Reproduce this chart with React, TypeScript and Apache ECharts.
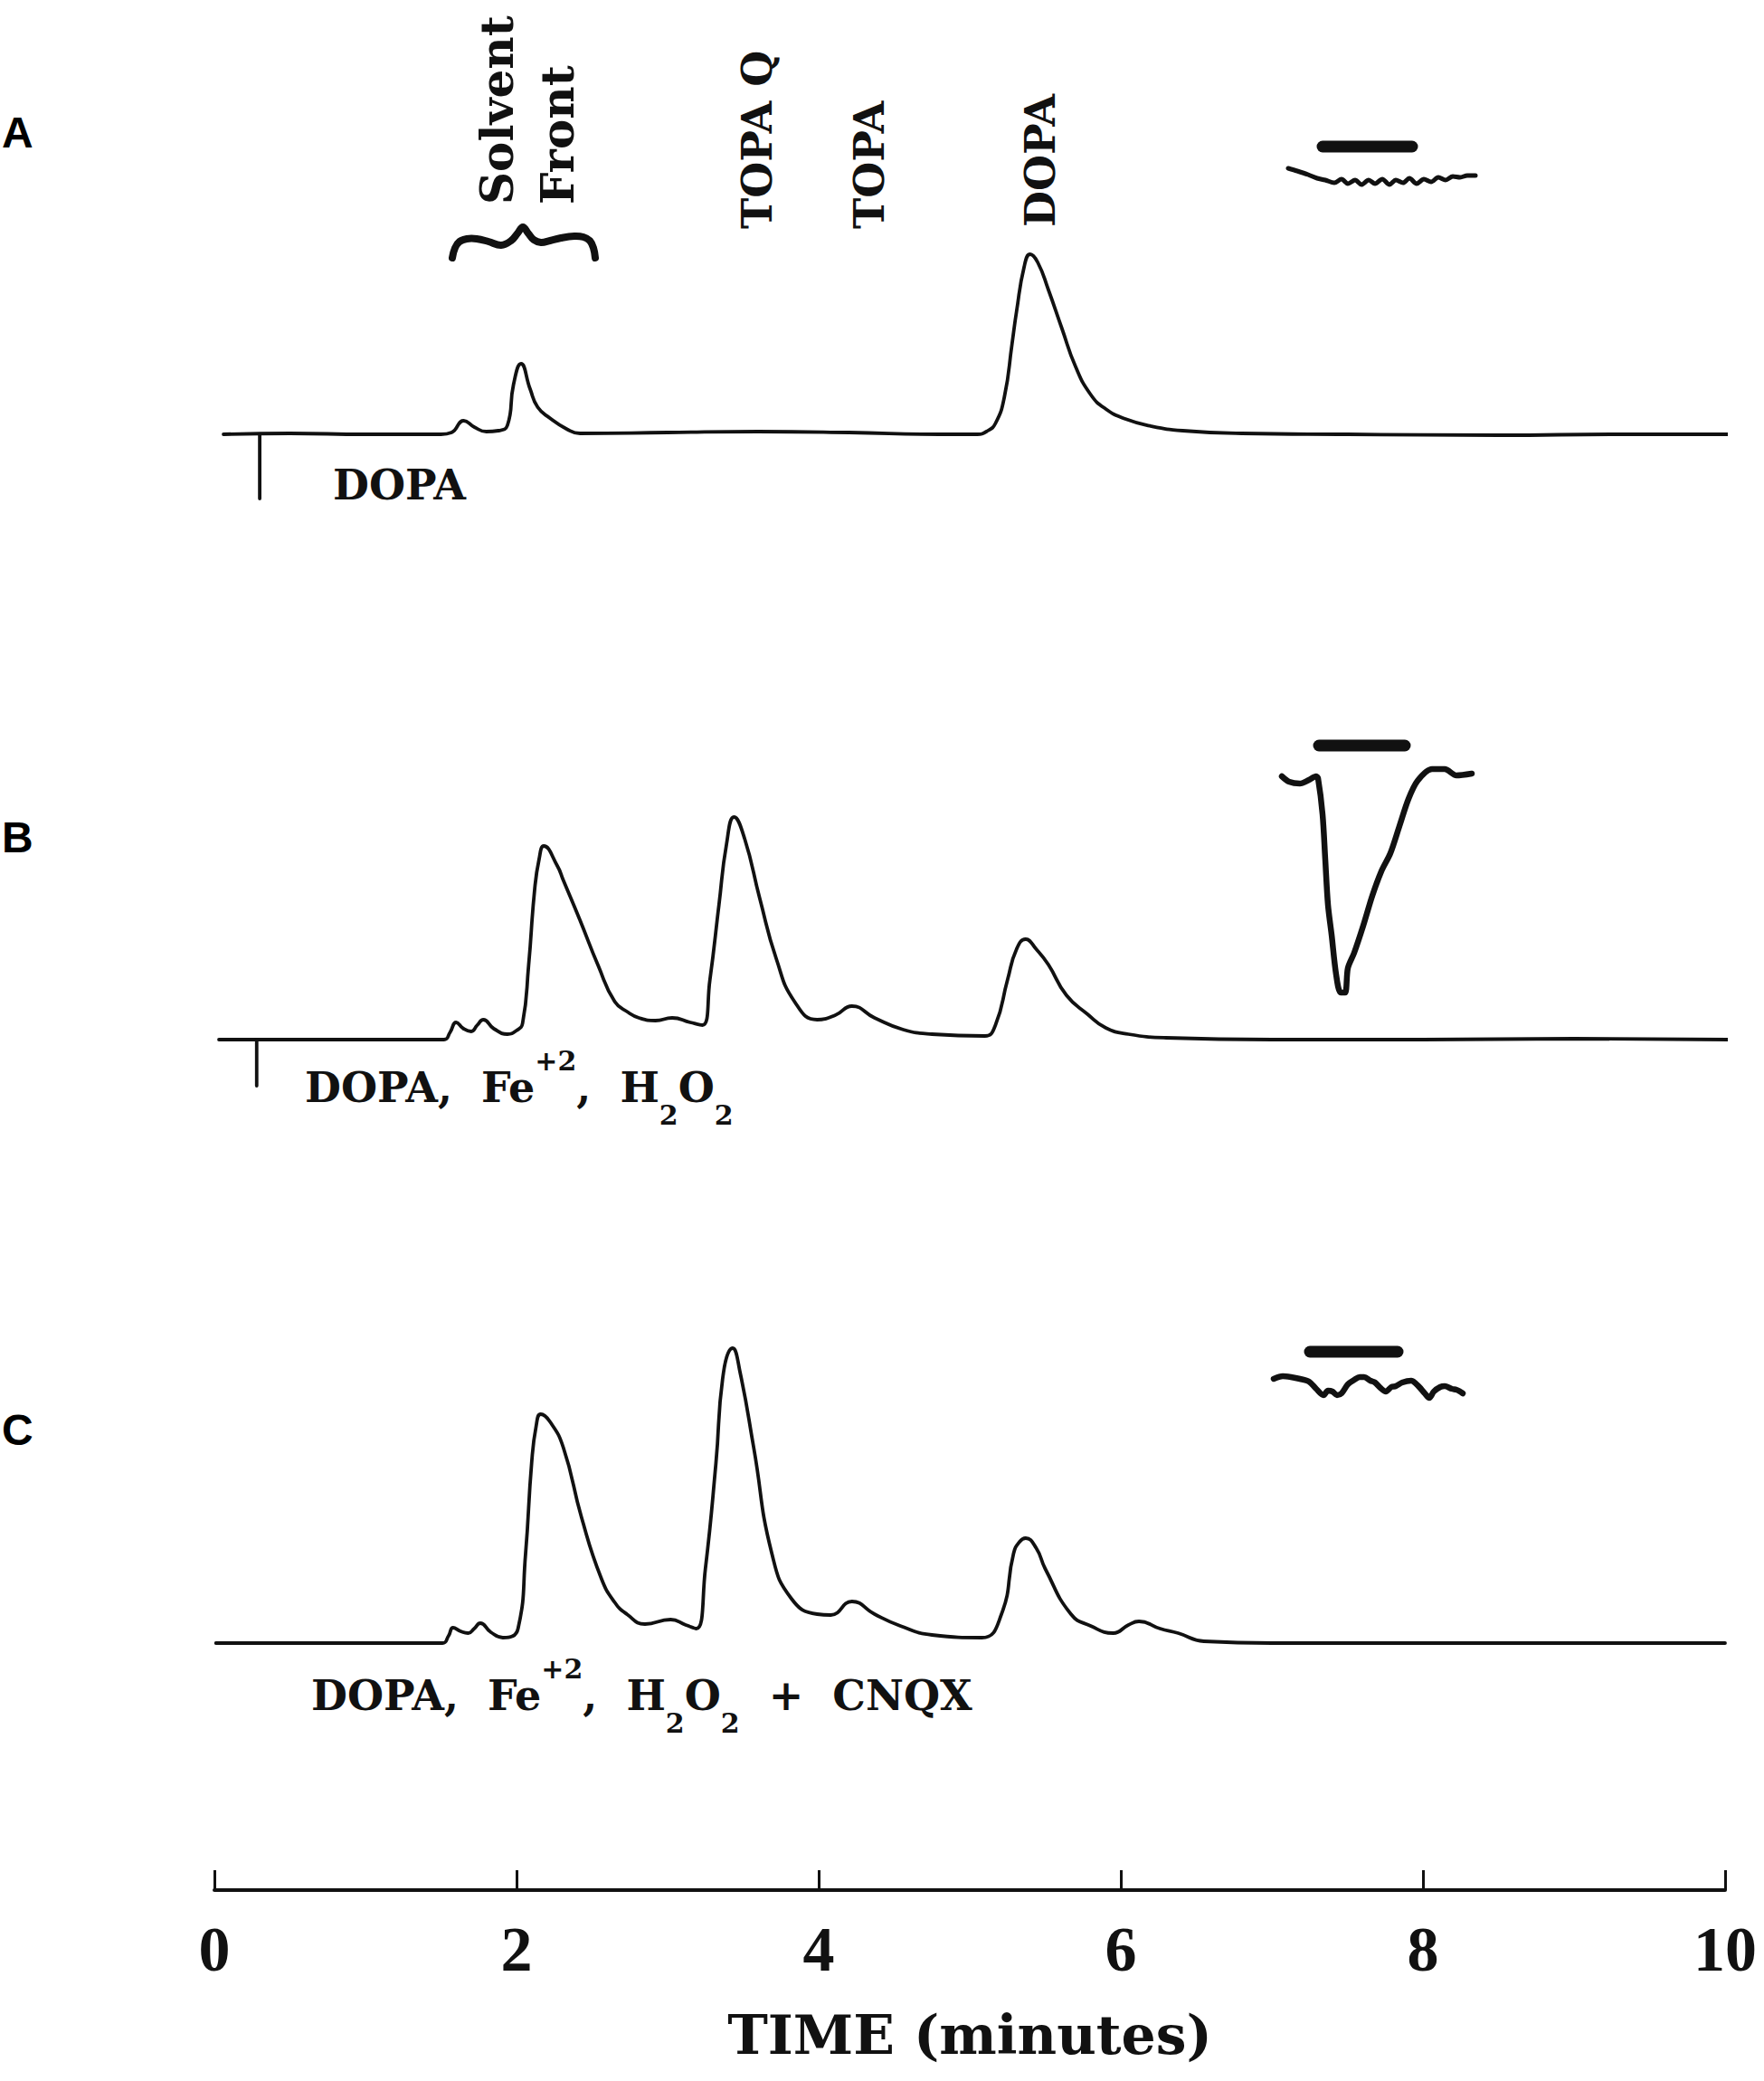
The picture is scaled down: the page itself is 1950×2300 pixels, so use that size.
import React, { useEffect, useRef } from 'react';
import * as echarts from 'echarts';

// ---- DATA (time in minutes, detector response in arbitrary units) ----
const traceA: [number, number][] = [
  [0.06, 0], [0.5, 1], [1.0, 0], [1.5, 0], [1.57, 2], [1.65, 15], [1.72, 8], [1.8, 3], [1.88, 4],
  [1.94, 10], [1.98, 55], [2.03, 78], [2.09, 50], [2.14, 30], [2.22, 18], [2.33, 6], [2.42, 1],
  [3.0, 2], [3.6, 3], [4.2, 2], [4.8, 0], [5.05, 0], [5.11, 3], [5.17, 12], [5.23, 42], [5.28, 100],
  [5.31, 136], [5.36, 185], [5.4, 199], [5.45, 190], [5.52, 160], [5.61, 117], [5.7, 75], [5.8, 44],
  [5.9, 28], [6.03, 17], [6.2, 9], [6.41, 4], [6.8, 1], [7.5, 0], [8.5, -1], [9.3, 0], [10.05, 0],
];
const traceB: [number, number][] = [
  [0.03, 0], [0.8, 0], [1.52, 0], [1.56, 8], [1.6, 19], [1.65, 12], [1.7, 9], [1.74, 16], [1.78, 22],
  [1.85, 12], [1.94, 6], [2.0, 10], [2.04, 18], [2.08, 82], [2.12, 166], [2.15, 200], [2.18, 214],
  [2.27, 192], [2.31, 176], [2.42, 132], [2.54, 82], [2.65, 42], [2.74, 30], [2.81, 24], [2.92, 21],
  [3.03, 24], [3.15, 19], [3.23, 16], [3.28, 66], [3.34, 149], [3.39, 216], [3.44, 246], [3.51, 222],
  [3.61, 156], [3.72, 89], [3.84, 42], [3.99, 22], [4.11, 27], [4.22, 37], [4.37, 24], [4.56, 11],
  [4.75, 6], [5.1, 4], [5.17, 16], [5.25, 66], [5.31, 100], [5.37, 111], [5.44, 100], [5.52, 83],
  [5.64, 49], [5.78, 28], [5.9, 13], [6.05, 6], [6.3, 2], [7.0, 0], [8.0, 0], [9.0, 1], [10.04, 0],
];
const traceC: [number, number][] = [
  [0.01, 0], [0.8, 0], [1.51, 0], [1.55, 8], [1.58, 17], [1.63, 13], [1.68, 11], [1.72, 16], [1.76, 22],
  [1.83, 12], [1.91, 6], [2.01, 16], [2.06, 99], [2.1, 199], [2.13, 240], [2.16, 253], [2.22, 245],
  [2.31, 216], [2.43, 139], [2.56, 72], [2.65, 45], [2.73, 32], [2.85, 21], [3.02, 26], [3.12, 20],
  [3.19, 16], [3.25, 82], [3.32, 199], [3.37, 299], [3.43, 326], [3.48, 299], [3.57, 216], [3.69, 99],
  [3.82, 49], [3.99, 32], [4.08, 31], [4.22, 46], [4.37, 32], [4.54, 19], [4.75, 9], [5.08, 6],
  [5.21, 32], [5.29, 99], [5.33, 112], [5.37, 116], [5.44, 105], [5.5, 82], [5.67, 32], [5.8, 19],
  [5.95, 11], [6.05, 20], [6.12, 24], [6.26, 16], [6.38, 11], [6.55, 2], [7.0, 0], [8.0, 0], [9.0, 0], [10.0, 0],
];
const injectionA: [number, number][] = [[0.3, 0], [0.3, -71]];
const injectionB: [number, number][] = [[0.28, 0], [0.28, -51]];

// insets (own arbitrary time / current units)
const insetA: [number, number][] = [
  [0, 14], [10, 11], [22, 7], [32, 3], [41, 1], [51, -2], [59, 2], [66, -3], [74, 1], [81, -4], [89, 1],
  [96, -3], [104, 2], [112, -4], [119, 1], [127, -2], [134, 3], [142, -3], [150, 2], [158, -1], [166, 4],
  [174, 1], [182, 5], [190, 4], [198, 6], [207, 6],
];
const insetABar: [number, number][] = [[38, 38], [137, 38]];
const insetB: [number, number][] = [
  [0, 0], [8, -6], [20, -8], [30, -4], [38, 0], [40, -2], [45, -42], [48, -92], [51, -142], [55, -175],
  [60, -219], [65, -239], [70, -239], [73, -212], [80, -195], [90, -165], [100, -132], [110, -105],
  [120, -85], [130, -55], [140, -25], [150, -5], [166, 8], [180, 8], [193, 1], [210, 3],
];
const insetBBar: [number, number][] = [[41, 34], [136, 34]];
const insetC: [number, number][] = [
  [0, 0], [10, 3], [19, 2], [29, 0], [39, -3], [47, -11], [55, -18], [60, -13], [65, -14], [70, -18],
  [75, -16], [82, -6], [89, -1], [95, 2], [100, 2], [107, -2], [112, -4], [118, -10], [124, -14],
  [130, -9], [135, -8], [142, -4], [152, -2], [160, -8], [167, -16], [172, -21], [177, -14], [184, -9],
  [189, -8], [197, -11], [202, -12], [206, -14], [209, -16],
];
const insetCBar: [number, number][] = [[40, 30], [137, 30]];

const panelLetters = ['A', 'B', 'C'];
const peakLabels = ['Solvent', 'Front', 'TOPA Q', 'TOPA', 'DOPA'];
const axisTitle = 'TIME (minutes)';

const INK = '#111';
const SERIF = 'DejaVu Serif';

export default function App() {
  const ref = useRef<HTMLDivElement>(null);
  useEffect(() => {
    document.body.style.margin = '0';
    const chart = echarts.init(ref.current!, undefined, { renderer: 'svg' });
    const hiddenX = (gi: number, max: number) => ({
      type: 'value', gridIndex: gi, min: 0, max, show: false,
    });
    const hiddenY = (gi: number, min: number, max: number) => ({
      type: 'value', gridIndex: gi, min, max, show: false,
    });
    const traceSeries = (data: [number, number][], gi: number, width: number, smooth: number | boolean) => ({
      type: 'line', xAxisIndex: gi, yAxisIndex: gi, data, symbol: 'none', clip: false,
      smooth,
      lineStyle: { color: INK, width, cap: 'round', join: 'round' },
    });
    const barSeries = (data: [number, number][], gi: number) => ({
      type: 'line', xAxisIndex: gi, yAxisIndex: gi, data, symbol: 'none', clip: false,
      lineStyle: { color: INK, width: 13, cap: 'round' },
    });
    const labelStyle = (text: string, size = 46) => ({
      text, fontFamily: SERIF, fontWeight: 'bold', fontSize: size, fill: INK,
      align: 'left', verticalAlign: 'middle',
    });
    const rich = {
      m: { fontFamily: SERIF, fontWeight: 'bold', fontSize: 46, lineHeight: 90, verticalAlign: 'middle', fill: INK },
      sup: { fontFamily: SERIF, fontWeight: 'bold', fontSize: 30, lineHeight: 32, verticalAlign: 'top', fill: INK },
      sub: { fontFamily: SERIF, fontWeight: 'bold', fontSize: 30, lineHeight: 40, verticalAlign: 'bottom', fill: INK },
    };
    const option: any = {
      animation: false,
      backgroundColor: '#fff',
      grid: [
        { left: 237, width: 1670, top: 260, height: 300 },
        { left: 237, width: 1670, top: 889, height: 340 },
        { left: 237, width: 1670, top: 1476, height: 380 },
        { left: 237, width: 1670, top: 2000, height: 89 },
        { left: 1424, width: 207, top: 150, height: 70 },
        { left: 1417, width: 210, top: 808, height: 300 },
        { left: 1408, width: 210, top: 1474, height: 100 },
      ],
      xAxis: [
        hiddenX(0, 10), hiddenX(1, 10), hiddenX(2, 10),
        {
          type: 'value', gridIndex: 3, min: 0, max: 10, interval: 2,
          axisLine: { show: true, lineStyle: { color: INK, width: 4 } },
          axisTick: { show: true, inside: true, length: 22, lineStyle: { color: INK, width: 3 } },
          splitLine: { show: false },
          axisLabel: {
            color: INK, fontFamily: 'Liberation Serif', fontWeight: 'bold', fontSize: 70, margin: 30,
          },
          name: axisTitle, nameLocation: 'middle', nameGap: 130,
          nameTextStyle: { color: INK, fontFamily: SERIF, fontWeight: 'bold', fontSize: 60 },
        },
        hiddenX(4, 207), hiddenX(5, 210), hiddenX(6, 210),
      ],
      yAxis: [
        hiddenY(0, -80, 220), hiddenY(1, -80, 260), hiddenY(2, -40, 340), hiddenY(3, 0, 1),
        hiddenY(4, -20, 50), hiddenY(5, -250, 50), hiddenY(6, -50, 50),
      ],
      series: [
        traceSeries(traceA, 0, 3.8, 0.5),
        traceSeries(injectionA, 0, 3.8, false),
        traceSeries(traceB, 1, 3.8, 0.5),
        traceSeries(injectionB, 1, 3.8, false),
        traceSeries(traceC, 2, 3.8, 0.5),
        traceSeries(insetA, 4, 5, 0.3),
        barSeries(insetABar, 4),
        traceSeries(insetB, 5, 6.5, 0.3),
        barSeries(insetBBar, 5),
        traceSeries(insetC, 6, 6.5, 0.3),
        barSeries(insetCBar, 6),
      ],
      graphic: [
        // panel letters
        ...panelLetters.map((t, i) => ({
          type: 'text', x: 2, y: [146, 925, 1580][i],
          style: { text: t, fontFamily: 'Liberation Sans', fontWeight: 'bold', fontSize: 48, fill: '#000', align: 'left', verticalAlign: 'middle' },
        })),
        // peak labels (rotated)
        ...peakLabels.map((t, i) => ({
          type: 'text', x: [549, 616, 837, 961, 1150][i], y: [226, 226, 253, 253, 251][i], rotation: Math.PI / 2,
          style: labelStyle(t, [50, 50, 46, 46, 46][i]),
        })),
        // solvent front brace
        {
          type: 'polyline',
          shape: {
            smooth: 0.4,
            points: [[500, 285], [503, 274], [508, 267], [516, 264], [527, 264], [540, 267], [554, 271], [565, 266],
              [572, 258], [578, 251], [584, 258], [590, 265], [598, 268], [608, 266], [620, 263], [635, 261],
              [645, 262], [652, 266], [656, 274], [658, 285]],
          },
          style: { stroke: INK, lineWidth: 8, fill: null, lineCap: 'round', lineJoin: 'round' },
        },
        // condition labels
        { type: 'text', x: 368, y: 536, style: labelStyle('DOPA', 46) },
        {
          type: 'text', x: 337, y: 1202,
          style: { text: '{m|DOPA,  Fe}{sup|+2}{m|,  H}{sub|2}{m|O}{sub|2}', rich, align: 'left', verticalAlign: 'middle' },
        },
        {
          type: 'text', x: 344, y: 1874,
          style: { text: '{m|DOPA,  Fe}{sup|+2}{m|,  H}{sub|2}{m|O}{sub|2}{m|  +  CNQX}', rich, align: 'left', verticalAlign: 'middle' },
        },
      ],
    };
    chart.setOption(option);
    return () => chart.dispose();
  }, []);
  return <div ref={ref} style={{ position: 'absolute', left: 0, top: 0, width: 1950, height: 2300 }} />;
}
